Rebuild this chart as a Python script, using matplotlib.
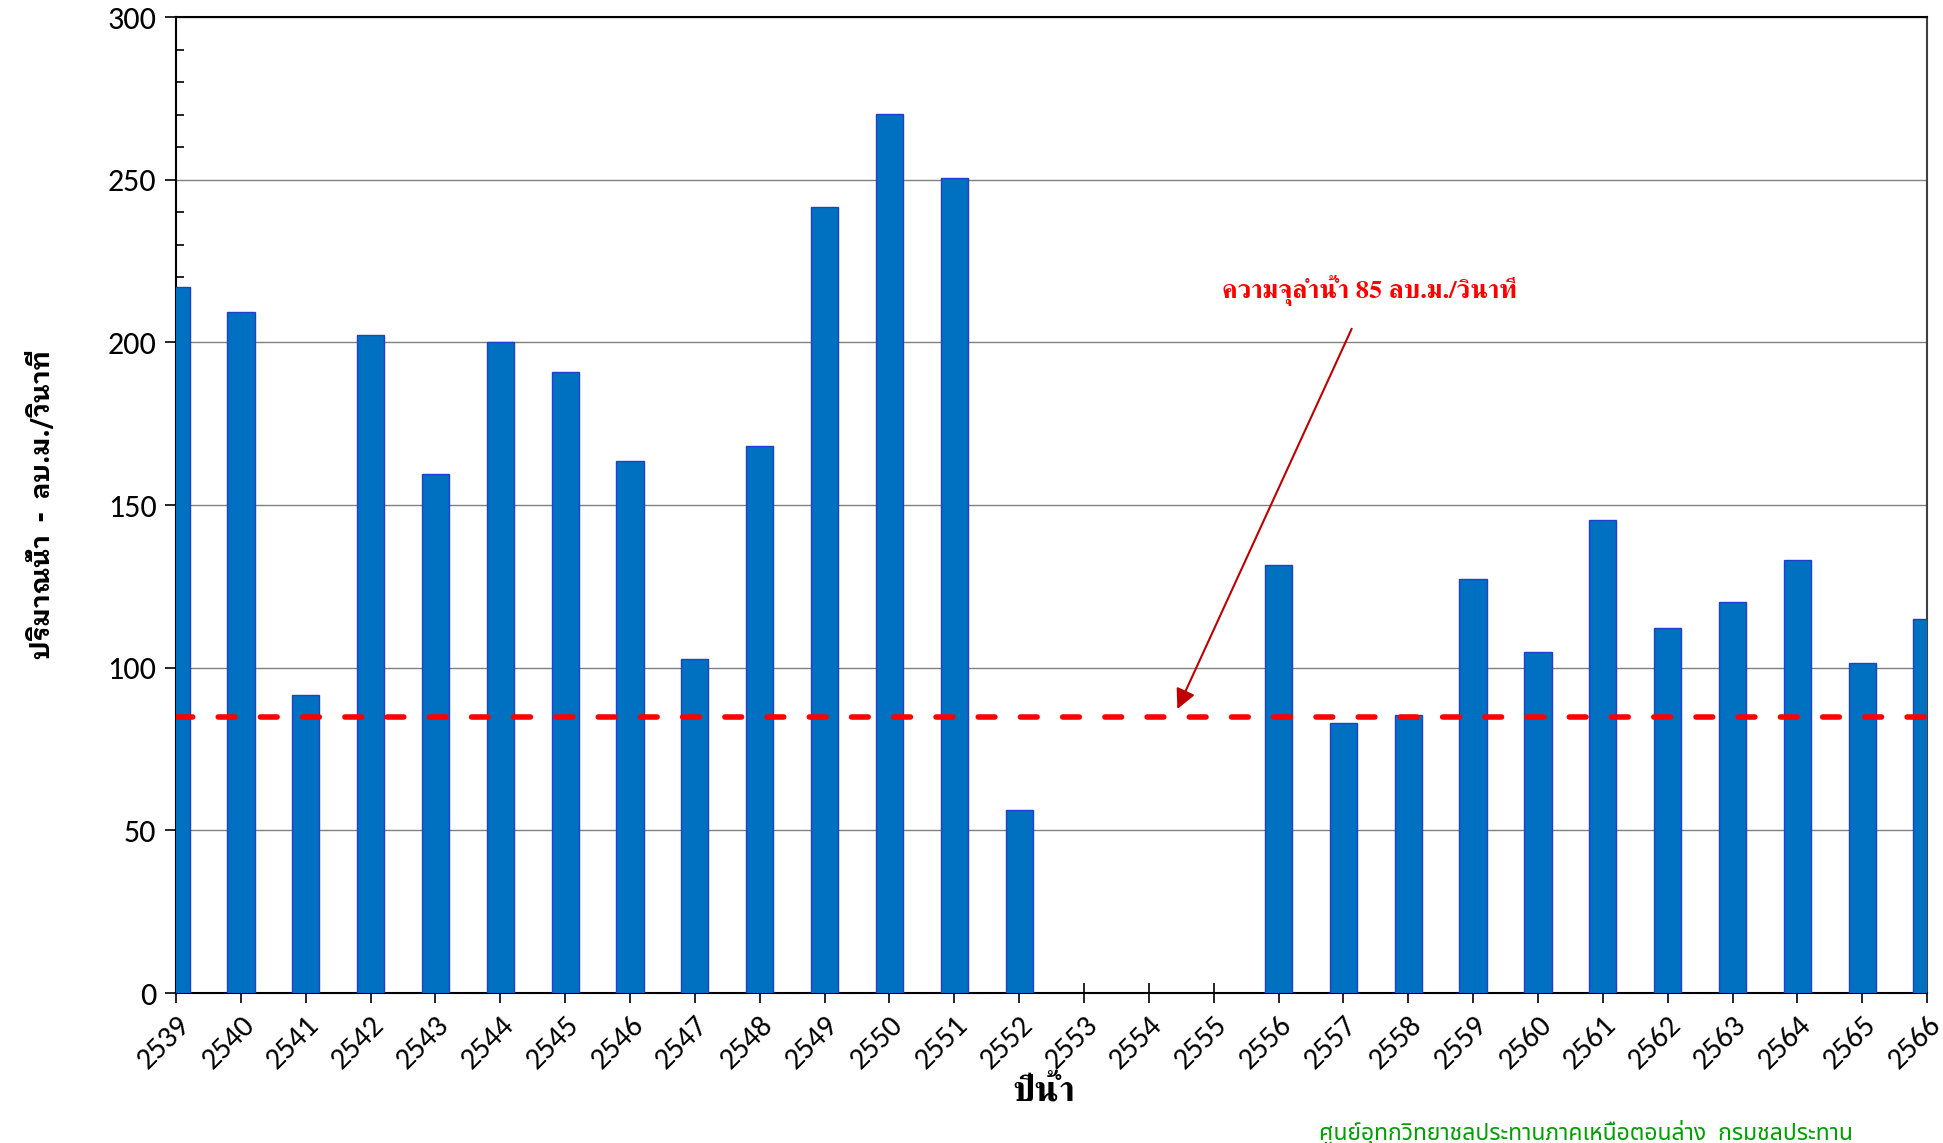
import numpy as np
import matplotlib
matplotlib.use('Agg')
import matplotlib.pyplot as plt
from matplotlib.ticker import MultipleLocator

# water years and mean flow (cu.m./s)
years = list(range(2539, 2567))
flow = [217, 209.3, 91.5, 202.4, 159.4, 200, 191, 163.6, 102.6, 168.1,
        241.7, 270.3, 250.5, 56.4, None, None, None, 131.5, 83.1, 85.4,
        127.3, 104.8, 145.3, 112.1, 120.1, 133, 101.4, 115.1]
capacity = 85

ylabel = 'ปริมาณน้ำ  -  ลบ.ม./วินาที'
xlabel = 'ปีน้ำ'
note = 'ความจุลำน้ำ 85 ลบ.ม./วินาที'
credit = 'ศูนย์อุทกวิทยาชลประทานภาคเหนือตอนล่าง  กรมชลประทาน'

num_font = ['Carlito', 'Open Sans', 'DejaVu Sans']
thai_looped = ['IBM Plex Sans Thai Looped', 'DejaVu Sans']
thai_plain = ['Noto Sans Thai', 'IBM Plex Sans Thai', 'DejaVu Sans']
thai_serif = ['FreeSerif', 'DejaVu Serif']

vals = np.array([np.nan if v is None else v for v in flow], dtype=float)

fig = plt.figure(figsize=(19.43, 11.43), dpi=100)
ax = fig.add_axes([0.0906, 0.1312, 0.9012, 0.8539])

ax.bar(years, vals, width=0.42, color='#0070C0', edgecolor='#1F3FD0',
       linewidth=1.0, zorder=3)
ax.axhline(capacity, color='#FF0000', lw=4, linestyle=(0, (3, 4.6)),
           dash_capstyle='round', zorder=4)

ax.set_xlim(years[0], years[-1])
ax.set_ylim(0, 300)
ax.set_xticks(years)
ax.set_xticklabels([str(y) for y in years], rotation=45, ha='right',
                   rotation_mode='anchor', fontsize=22, family=num_font)
ax.yaxis.set_major_locator(MultipleLocator(50))
ax.yaxis.set_minor_locator(MultipleLocator(10))
for t in ax.get_yticklabels():
    t.set_family(num_font)
    t.set_fontsize(23)
ax.tick_params(axis='y', which='major', direction='out', length=8, width=1.2, pad=6)
ax.tick_params(axis='y', which='minor', direction='in', length=6, width=1.2)
ax.tick_params(axis='x', which='major', direction='inout', length=14, width=1.2, pad=6)

ax.grid(axis='y', color='#808080', lw=1, zorder=0)
ax.set_axisbelow(True)
for s in ['left', 'bottom', 'top']:
    ax.spines[s].set_color('black')
    ax.spines[s].set_linewidth(1.5)
ax.spines['right'].set_color('#404040')
ax.spines['right'].set_linewidth(1.5)

ax.set_ylabel(ylabel, fontsize=19, fontweight='bold', family=thai_looped, labelpad=38)
fig.text(0.537, 0.045, xlabel, fontsize=26, fontweight='bold', family=thai_serif,
         ha='center', va='center')

ax.annotate(note, xy=(2554.44, 87.3), xytext=(2557.4, 216),
            fontsize=19, fontweight='bold', color='#FF0000', family=thai_serif,
            ha='center', va='center',
            arrowprops=dict(arrowstyle='-|>', color='#C00000', lw=1.5,
                            mutation_scale=30, shrinkA=16, shrinkB=0))

fig.text(0.816, 0.009, credit, fontsize=16.5, color='#00A000', family=thai_plain,
         ha='center', va='center')

plt.savefig('out.png')
